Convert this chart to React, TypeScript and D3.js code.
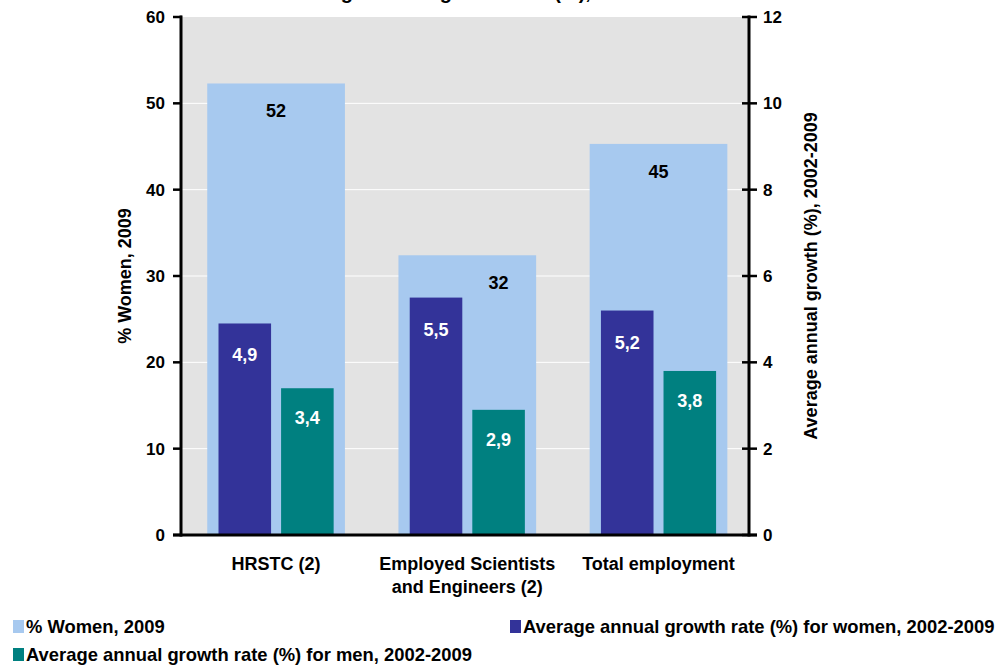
import React from "react";
import * as d3 from "d3";

// Categories and series
const categories = ["HRSTC (2)", "Employed Scientists and Engineers (2)", "Total employment"];
const categoryLines = [["HRSTC (2)"], ["Employed Scientists", "and Engineers (2)"], ["Total employment"]];
const womenShare2009 = [52.3, 32.4, 45.3];
const growthWomen = [4.9, 5.5, 5.2];
const growthMen = [3.4, 2.9, 3.8];

const leftTicks = [0, 10, 20, 30, 40, 50, 60];
const rightTicks = [0, 2, 4, 6, 8, 10, 12];

const titleText = "Average annual growth rate (%), 2002-2009";
const leftAxisTitle = "% Women, 2009";
const rightAxisTitle = "Average annual growth (%), 2002-2009";
const legendItems = [
  "% Women, 2009",
  "Average annual growth rate (%) for women, 2002-2009",
  "Average annual growth rate (%) for men, 2002-2009",
];

const W = 996;
const H = 665;
const plot = { left: 182, right: 748, top: 17, bottom: 535 };

const colors = {
  share: "#a7c9ef",
  women: "#333399",
  men: "#008080",
  bg: "#e3e3e3",
};

const FONT = "'Liberation Sans', Arial, Helvetica, sans-serif";

const fmtComma = (v: number) => v.toFixed(1).replace(".", ",");

export default function App() {
  const x = d3
    .scaleBand<string>()
    .domain(categories)
    .range([plot.left, plot.right])
    .paddingInner(0.28)
    .paddingOuter(0.12)
    .align(0.55);
  const bw = x.bandwidth();
  const sub = d3
    .scaleBand<string>()
    .domain(["women", "men"])
    .range([0, bw])
    .paddingInner(0.16)
    .paddingOuter(0.18);
  const sbw = sub.bandwidth();

  const yL = d3.scaleLinear().domain([0, 60]).range([plot.bottom, plot.top]);
  const yR = d3.scaleLinear().domain([0, 12]).range([plot.bottom, plot.top]);

  return (
    <svg
      width={W}
      height={H}
      style={{ position: "absolute", left: 0, top: 0, background: "#fff" }}
      fontFamily={FONT}
      fontWeight="bold"
    >
      {/* title, partly above the visible area */}
      <text x={286} y={-1} fontSize={20}>
        {titleText}
      </text>

      {/* plot background */}
      <rect
        x={plot.left}
        y={plot.top}
        width={plot.right - plot.left}
        height={plot.bottom - plot.top}
        fill={colors.bg}
      />

      {/* gridlines */}
      {leftTicks
        .filter((t) => t > 0 && t < 60)
        .map((t) => (
          <line
            key={"g" + t}
            x1={plot.left}
            x2={plot.right}
            y1={yL(t)}
            y2={yL(t)}
            stroke="#fff"
            strokeWidth={1}
          />
        ))}

      {/* bars */}
      {categories.map((c, i) => {
        const x0 = x(c)!;
        const shareTop = yL(womenShare2009[i]);
        const wTop = yR(growthWomen[i]);
        const mTop = yR(growthMen[i]);
        const xw = x0 + sub("women")!;
        const xm = x0 + sub("men")!;
        // keep the share label clear of the women's growth bar
        let shareLabelX = x0 + bw / 2;
        if (shareTop + 28 + 9 > wTop - 12) shareLabelX = xm + sbw / 2;
        return (
          <g key={c}>
            <rect x={x0} y={shareTop} width={bw} height={plot.bottom - shareTop} fill={colors.share} />
            <rect x={xw} y={wTop} width={sbw} height={plot.bottom - wTop} fill={colors.women} />
            <rect x={xm} y={mTop} width={sbw} height={plot.bottom - mTop} fill={colors.men} />
            <text x={shareLabelX} y={shareTop + 34} fontSize={18} textAnchor="middle" fill="#000">
              {d3.format(".0f")(womenShare2009[i])}
            </text>
            <text x={xw + sbw / 2} y={wTop + 38} fontSize={18} textAnchor="middle" fill="#fff">
              {fmtComma(growthWomen[i])}
            </text>
            <text x={xm + sbw / 2} y={mTop + 36} fontSize={18} textAnchor="middle" fill="#fff">
              {fmtComma(growthMen[i])}
            </text>
          </g>
        );
      })}

      {/* left axis */}
      <line x1={plot.left - 1} x2={plot.left - 1} y1={plot.top - 1.5} y2={plot.bottom + 1.5} stroke="#000" strokeWidth={3} />
      {leftTicks.map((t) => (
        <g key={"l" + t}>
          <line x1={plot.left - 9} x2={plot.left} y1={yL(t)} y2={yL(t)} stroke="#000" strokeWidth={2.5} />
          <text x={plot.left - 17} y={yL(t) + 6} fontSize={17} textAnchor="end">
            {t}
          </text>
        </g>
      ))}

      {/* right axis */}
      <line x1={plot.right + 1} x2={plot.right + 1} y1={plot.top - 1.5} y2={plot.bottom + 1.5} stroke="#000" strokeWidth={3} />
      {rightTicks.map((t) => (
        <g key={"r" + t}>
          <line x1={plot.right - 6} x2={plot.right + 9} y1={yR(t)} y2={yR(t)} stroke="#000" strokeWidth={2.5} />
          <text x={plot.right + 15} y={yR(t) + 6} fontSize={17} textAnchor="start">
            {t}
          </text>
        </g>
      ))}

      {/* baseline */}
      <line x1={plot.left - 9} x2={plot.right + 9} y1={plot.bottom} y2={plot.bottom} stroke="#000" strokeWidth={3} />

      {/* category labels */}
      {categories.map((c, i) => (
        <text key={"c" + c} x={x(c)! + bw / 2} fontSize={18} textAnchor="middle">
          {categoryLines[i].map((ln, j) => (
            <tspan key={j} x={x(c)! + bw / 2} y={570 + j * 23}>
              {ln}
            </tspan>
          ))}
        </text>
      ))}

      {/* axis titles */}
      <text
        transform={`translate(131, ${(plot.top + plot.bottom) / 2}) rotate(-90)`}
        fontSize={18}
        textAnchor="middle"
      >
        {leftAxisTitle}
      </text>
      <text
        transform={`translate(817, ${(plot.top + plot.bottom) / 2}) rotate(-90)`}
        fontSize={18}
        textAnchor="middle"
      >
        {rightAxisTitle}
      </text>

      {/* legend */}
      {[
        { x: 13, y: 620, c: colors.share },
        { x: 510, y: 620, c: colors.women },
        { x: 13, y: 648, c: colors.men },
      ].map((p, i) => (
        <g key={"lg" + i}>
          <rect x={p.x} y={p.y} width={11} height={13} fill={p.c} />
          <text x={p.x + 13} y={p.y + 13} fontSize={18.4}>
            {legendItems[i]}
          </text>
        </g>
      ))}
    </svg>
  );
}
